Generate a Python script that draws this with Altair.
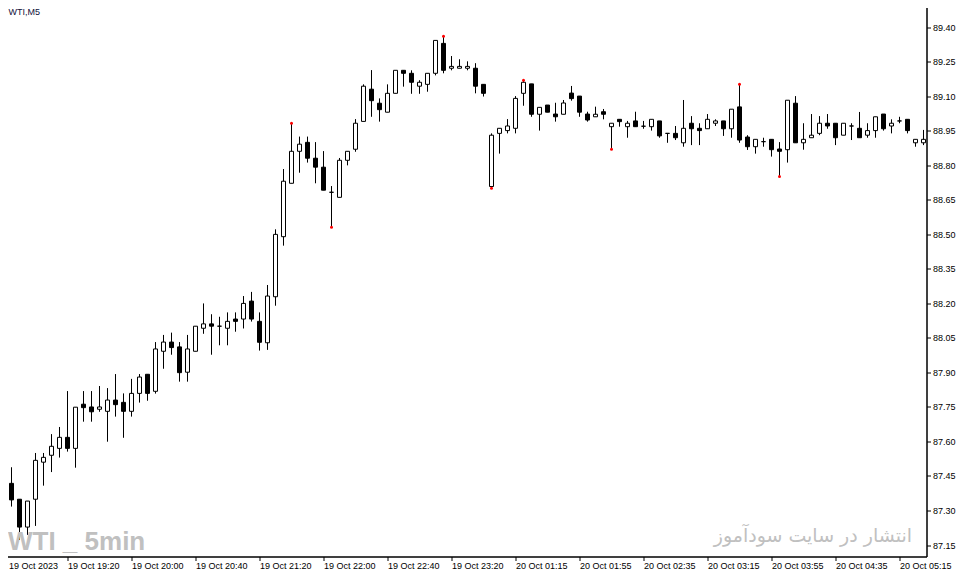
import json
import altair as alt
import pandas as pd

# OHLC of WTI, 5-minute bars
opens = [87.302, 87.418, 87.349, 87.228, 87.349, 87.510, 87.540, 87.570, 87.618, 87.570,
         87.762, 87.750, 87.740, 87.731, 87.780, 87.770, 87.731, 87.809, 87.892, 87.818,
         87.992, 88.032, 88.011, 87.901, 87.992, 88.092, 88.111, 88.101, 88.092, 88.132,
         88.132, 88.210, 88.122, 88.029, 88.229, 88.490, 88.722, 88.861, 88.900, 88.831,
         88.792, 88.683, 88.661, 88.822, 88.870, 88.991, 89.131, 89.070, 89.031, 89.113,
         89.213, 89.200, 89.144, 89.152, 89.200, 89.330, 89.222, 89.222, 89.222, 89.222,
         89.152, 88.708, 88.939, 88.951, 88.961, 89.113, 89.154, 89.022, 89.062, 89.023,
         89.022, 89.114, 89.101, 89.023, 89.011, 89.033, 88.968, 89.000, 88.968, 88.993,
         88.970, 88.968, 88.993, 88.939, 88.939, 88.898, 88.983, 88.961, 88.959, 88.983,
         88.993, 88.959, 89.054, 88.923, 88.881, 88.903, 88.913, 88.871, 88.868, 89.070,
         88.898, 88.920, 88.939, 88.983, 88.983, 88.931, 88.971, 88.961, 88.931, 88.951,
         89.023, 88.971, 88.993, 89.000, 88.898, 88.898]
highs = [87.448, 87.488, 87.349, 87.341, 87.550, 87.550, 87.632, 87.663, 87.819, 87.749,
         87.819, 87.819, 87.841, 87.832, 87.893, 87.809, 87.872, 87.893, 87.892, 88.032,
         88.063, 88.073, 88.032, 88.063, 88.101, 88.200, 88.153, 88.142, 88.161, 88.161,
         88.232, 88.250, 88.161, 88.280, 88.522, 88.784, 88.983, 88.925, 88.925, 88.901,
         88.862, 88.710, 88.832, 88.861, 89.001, 89.152, 89.214, 89.091, 89.152, 89.213,
         89.213, 89.213, 89.170, 89.200, 89.343, 89.361, 89.275, 89.261, 89.252, 89.244,
         89.152, 88.939, 88.961, 89.001, 89.101, 89.170, 89.154, 89.052, 89.062, 89.072,
         89.084, 89.145, 89.101, 89.033, 89.055, 89.045, 88.983, 89.000, 88.993, 89.033,
         88.993, 89.000, 88.993, 88.939, 88.971, 89.084, 89.014, 88.983, 89.023, 89.000,
         88.993, 89.044, 89.152, 88.931, 88.913, 88.920, 88.913, 88.901, 89.083, 89.101,
         88.983, 89.023, 89.014, 89.023, 88.983, 88.983, 88.983, 89.032, 88.983, 89.011,
         89.023, 89.000, 89.011, 89.000, 88.913, 88.954]
lows = [87.259, 87.317, 87.172, 87.194, 87.233, 87.408, 87.467, 87.530, 87.556, 87.486,
        87.686, 87.686, 87.729, 87.599, 87.708, 87.616, 87.708, 87.769, 87.777, 87.808,
        87.916, 87.977, 87.860, 87.860, 87.992, 88.068, 87.977, 88.018, 88.018, 88.077,
        88.091, 88.121, 87.995, 87.998, 88.190, 88.451, 88.722, 88.768, 88.812, 88.722,
        88.692, 88.531, 88.661, 88.800, 88.859, 88.991, 89.011, 88.990, 89.031, 89.113,
        89.142, 89.111, 89.111, 89.120, 89.191, 89.200, 89.213, 89.222, 89.213, 89.113,
        89.099, 88.700, 88.851, 88.939, 88.939, 89.059, 89.011, 88.951, 89.031, 88.990,
        89.022, 89.081, 89.011, 88.990, 89.011, 89.000, 88.870, 88.968, 88.920, 88.968,
        88.959, 88.951, 88.920, 88.898, 88.910, 88.881, 88.888, 88.888, 88.959, 88.971,
        88.928, 88.920, 88.898, 88.867, 88.851, 88.881, 88.838, 88.752, 88.812, 88.898,
        88.868, 88.920, 88.931, 88.959, 88.888, 88.931, 88.910, 88.920, 88.920, 88.920,
        88.951, 88.939, 88.983, 88.939, 88.881, 88.888]
closes = [87.409, 87.346, 87.228, 87.341, 87.518, 87.531, 87.579, 87.618, 87.570, 87.749,
          87.747, 87.729, 87.750, 87.780, 87.760, 87.731, 87.809, 87.880, 87.809, 88.002,
          88.032, 88.008, 87.899, 88.002, 88.101, 88.111, 88.101, 88.101, 88.122, 88.122,
          88.200, 88.132, 88.031, 88.232, 88.500, 88.731, 88.861, 88.892, 88.831, 88.792,
          88.692, 88.683, 88.822, 88.861, 88.983, 89.144, 89.081, 89.042, 89.113, 89.213,
          89.200, 89.161, 89.161, 89.200, 89.343, 89.213, 89.230, 89.230, 89.230, 89.144,
          89.113, 88.931, 88.961, 88.971, 89.091, 89.161, 89.022, 89.052, 89.031, 89.011,
          89.071, 89.090, 89.031, 88.997, 89.022, 89.022, 88.983, 88.990, 88.983, 88.968,
          88.970, 89.000, 88.928, 88.939, 88.920, 88.961, 88.959, 88.951, 89.000, 88.993,
          88.959, 89.044, 88.910, 88.881, 88.913, 88.903, 88.868, 88.861, 89.083, 88.898,
          88.913, 88.931, 88.983, 88.971, 88.920, 88.983, 88.971, 88.920, 88.951, 89.011,
          88.959, 88.983, 88.993, 88.951, 88.913, 88.913]

# bars carrying a fractal marker (index of bar)
fractal_up = [36, 55, 65, 92]
fractal_down = [41, 61, 76, 97]

tick_labels = ["19 Oct 2023", "19 Oct 19:20", "19 Oct 20:00", "19 Oct 20:40",
               "19 Oct 21:20", "19 Oct 22:00", "19 Oct 22:40", "19 Oct 23:20",
               "20 Oct 01:15", "20 Oct 01:55", "20 Oct 02:35", "20 Oct 03:15",
               "20 Oct 03:55", "20 Oct 04:35", "20 Oct 05:15"]
tick_bars = [0, 8, 16, 24, 32, 40, 48, 56, 64, 72, 80, 88, 96, 104, 112]
price_ticks = [87.15, 87.30, 87.45, 87.60, 87.75, 87.90, 88.05, 88.20,
               88.35, 88.50, 88.65, 88.80, 88.95, 89.10, 89.25, 89.40]

symbol_label = "WTI,M5"
watermark_left = "WTI _ 5min"
watermark_right = "انتشار در سایت سودآموز"

df = pd.DataFrame({"k": list(range(len(opens))), "open": opens, "high": highs,
                   "low": lows, "close": closes})
fr = pd.DataFrame({"k": fractal_up + fractal_down,
                   "price": [highs[i] for i in fractal_up] + [lows[i] for i in fractal_down]})

FONT = "Tahoma, Liberation Sans, sans-serif"
W, H = 924, 554

xs = alt.Scale(domain=[-0.125, 115.375], nice=False, zero=False, padding=0)
ys = alt.Scale(domain=[87.1001, 89.5077], nice=False, zero=False, padding=0)

label_expr = json.dumps(tick_labels) + "[round(datum.value / 8)]"
x_axis = alt.Axis(values=tick_bars, labelExpr=label_expr, grid=False, tickSize=4,
                  labelAlign="left", labelBaseline="top", labelPadding=1,
                  labelOffset={"condition": {"test": "datum.value == 0", "value": 5}, "value": 0},
                  labelOverlap=False, labelFlush=False, title=None)
y_axis = alt.Axis(values=price_ticks, format=".2f", orient="right", grid=False,
                  tickSize=4, labelPadding=2, labelOverlap=False, labelFlush=False,
                  title=None)

base = alt.Chart(df)
wicks = base.mark_rule(color="black", strokeWidth=1).encode(
    x=alt.X("k:Q", scale=xs, axis=x_axis),
    y=alt.Y("low:Q", scale=ys, axis=y_axis),
    y2="high:Q",
)
bodies = base.mark_bar(size=4, stroke="black", strokeWidth=1).encode(
    x=alt.X("k:Q", scale=xs, axis=x_axis),
    y=alt.Y("open:Q", scale=ys, axis=y_axis),
    y2="close:Q",
    fill=alt.condition("datum.close >= datum.open", alt.value("white"), alt.value("black")),
)
dots = alt.Chart(fr).mark_circle(size=9, color="#ff0000", opacity=1).encode(
    x=alt.X("k:Q", scale=xs, axis=x_axis),
    y=alt.Y("price:Q", scale=ys, axis=y_axis),
)

title_txt = alt.Chart(pd.DataFrame({"t": [symbol_label]})).mark_text(
    align="left", baseline="top", font=FONT, fontSize=9, color="#10103a"
).encode(x=alt.value(6), y=alt.value(5.5), text="t:N")

wm_left = alt.Chart(pd.DataFrame({"t": [watermark_left]})).mark_text(
    align="left", baseline="alphabetic", font="Liberation Sans",
    fontSize=26, fontWeight="bold", color="#c0c0c0"
).encode(x=alt.value(5.5), y=alt.value(547.5), text="t:N")

wm_right = alt.Chart(pd.DataFrame({"t": [watermark_right]})).mark_text(
    align="right", baseline="alphabetic", font="DejaVu Sans", fontSize=19, color="#c0c0c0"
).encode(x=alt.value(909.5), y=alt.value(539), text="t:N")

chart = alt.layer(wicks, bodies, dots, title_txt, wm_left, wm_right).properties(
    width=W, height=H,
    autosize=alt.AutoSizeParams(type="none"),
    padding={"left": -5.5, "top": -5.5, "right": 30, "bottom": 16},
    background="white",
).configure_view(stroke="black", strokeWidth=1).configure_axis(
    domainColor="black", tickColor="black", labelColor="black",
    labelFont=FONT, labelFontSize=9, domainWidth=1, tickWidth=1,
    labelOverlap=False,
)

chart.save("out.html", embed_options={"renderer": "svg", "actions": False})
